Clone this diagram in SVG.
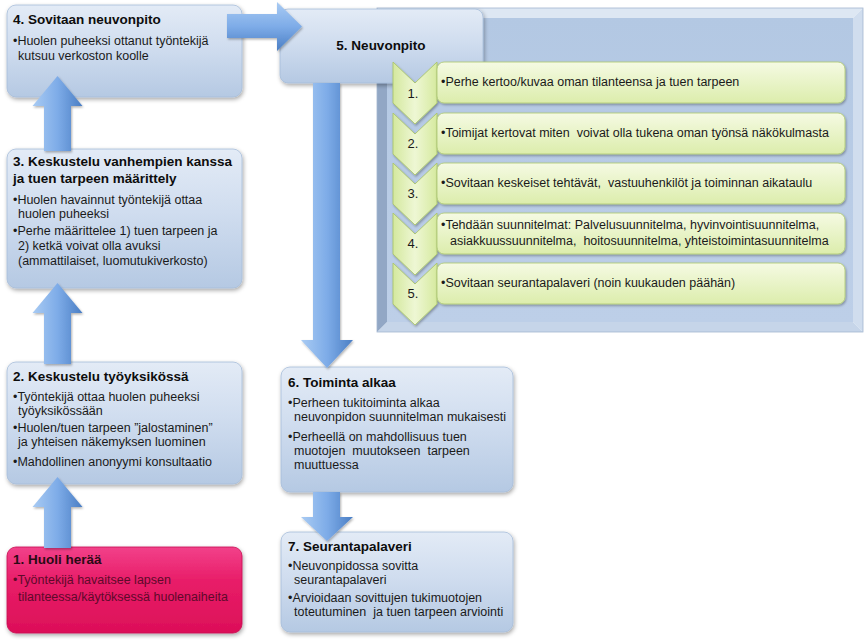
<svg xmlns="http://www.w3.org/2000/svg" width="865" height="641" viewBox="0 0 865 641">
<style>
.t{font-family:"Liberation Sans",Arial,sans-serif;font-size:13.5px;font-weight:bold;fill:#0d0d0d}
.b{font-family:"Liberation Sans",Arial,sans-serif;font-size:12.5px;fill:#1a1a1a}
.n{font-family:"Liberation Sans",Arial,sans-serif;font-size:13px;fill:#1a1a1a;text-anchor:middle}
.box{fill:url(#gBlue);stroke:#a6bcd9;stroke-width:0.8;filter:url(#sh)}
.red{fill:url(#gRed);stroke:#c70f52;stroke-width:0.8;filter:url(#sh)}
.grn{fill:url(#gGreen);stroke:#b2cc78;stroke-width:0.9;filter:url(#sh2)}
.chv{fill:url(#gChev);stroke:#aac56e;stroke-width:0.9;filter:url(#sh2)}
.av{fill:url(#gArrV);filter:url(#sh2)}
.ah{fill:url(#gArrH);filter:url(#sh2)}
</style>
<defs>
<linearGradient id="gBlue" x1="0" y1="0" x2="0" y2="1">
<stop offset="0" stop-color="#e3ebf6"/><stop offset="0.45" stop-color="#d0ddef"/><stop offset="1" stop-color="#b5c9e3"/>
</linearGradient>
<linearGradient id="gRed" x1="0" y1="0" x2="0" y2="1">
<stop offset="0" stop-color="#f2418a"/><stop offset="0.4" stop-color="#e81d68"/><stop offset="1" stop-color="#dc0f58"/>
</linearGradient>
<linearGradient id="gGreen" x1="0" y1="0" x2="0" y2="1">
<stop offset="0" stop-color="#f5fae3"/><stop offset="1" stop-color="#dcedac"/>
</linearGradient>
<linearGradient id="gChev" x1="0" y1="0" x2="1" y2="0">
<stop offset="0" stop-color="#d4e89e"/><stop offset="0.5" stop-color="#eef7d4"/><stop offset="1" stop-color="#d6ea9f"/>
</linearGradient>
<linearGradient id="gFace" x1="0" y1="0" x2="0" y2="1">
<stop offset="0" stop-color="#b3c8e3"/><stop offset="1" stop-color="#bdcfe8"/>
</linearGradient>
<linearGradient id="gArrV" x1="0" y1="0" x2="1" y2="0">
<stop offset="0" stop-color="#a9cbf3"/><stop offset="0.5" stop-color="#7eace8"/><stop offset="1" stop-color="#4a7ec4"/>
</linearGradient>
<linearGradient id="gArrH" x1="0" y1="0" x2="0" y2="1">
<stop offset="0" stop-color="#a9cbf3"/><stop offset="0.5" stop-color="#7eace8"/><stop offset="1" stop-color="#4a7ec4"/>
</linearGradient>
<filter id="sh" x="-10%" y="-10%" width="125%" height="130%">
<feDropShadow dx="1" dy="2" stdDeviation="2" flood-color="#000" flood-opacity="0.35"/>
</filter>
<filter id="sh2" x="-10%" y="-10%" width="125%" height="130%">
<feDropShadow dx="1" dy="1.5" stdDeviation="1.2" flood-color="#000" flood-opacity="0.3"/>
</filter>
</defs>

<g id="n5-panel">
<polygon points="377,8 863,8 853,18 387,18" fill="#dde7f3"/>
<polygon points="863,8 863,332 853,322 853,18" fill="#d0ddee"/>
<polygon points="377,332 863,332 853,322 387,322" fill="#c6d5e9"/>
<polygon points="377,8 387,18 387,322 377,332" fill="#92a7c5"/>
<rect x="387" y="18" width="466" height="304" fill="url(#gFace)"/>
<rect x="377" y="8" width="486" height="324" fill="none" stroke="#a3b6d0" stroke-width="0.8"/>
</g>

<g id="n5">
<rect class="box" x="280" y="9" width="203" height="74" rx="8"/>
<text class="t" x="381" y="50" text-anchor="middle">5. Neuvonpito</text>
</g>

<g id="n5-steps">
<g id="s1">
<polygon class="chv" points="393,62 415,83 437,62 437,103 415,124 393,103"/>
<rect class="grn" x="437" y="62" width="408" height="41" rx="7"/>
<text class="n" x="413" y="98">1.</text>
<text class="b" x="441" y="86">•Perhe kertoo/kuvaa oman tilanteensa ja tuen tarpeen</text>
</g>
<g id="s2">
<polygon class="chv" points="393,113 415,134 437,113 437,154 415,175 393,154"/>
<rect class="grn" x="437" y="113" width="408" height="41" rx="7"/>
<text class="n" x="413" y="148">2.</text>
<text class="b" x="441" y="137" xml:space="preserve">•Toimijat kertovat miten  voivat olla tukena oman työnsä näkökulmasta</text>
</g>
<g id="s3">
<polygon class="chv" points="393,163 415,184 437,163 437,204 415,225 393,204"/>
<rect class="grn" x="437" y="163" width="408" height="41" rx="7"/>
<text class="n" x="413" y="198">3.</text>
<text class="b" x="441" y="187" xml:space="preserve">•Sovitaan keskeiset tehtävät,  vastuuhenkilöt ja toiminnan aikataulu</text>
</g>
<g id="s4">
<polygon class="chv" points="393,213 415,234 437,213 437,254 415,275 393,254"/>
<rect class="grn" x="437" y="213" width="408" height="41" rx="7"/>
<text class="n" x="413" y="248">4.</text>
<text class="b" x="441" y="229">•Tehdään suunnitelmat: Palvelusuunnitelma, hyvinvointisuunnitelma,</text>
<text class="b" x="450" y="245" xml:space="preserve">asiakkuussuunnitelma,  hoitosuunnitelma, yhteistoimintasuunnitelma</text>
</g>
<g id="s5">
<polygon class="chv" points="393,263 415,284 437,263 437,304 415,325 393,304"/>
<rect class="grn" x="437" y="263" width="408" height="41" rx="7"/>
<text class="n" x="413" y="298">5.</text>
<text class="b" x="441" y="287">•Sovitaan seurantapalaveri (noin kuukauden päähän)</text>
</g>
</g>

<g id="n4">
<rect class="box" x="7" y="5" width="235" height="92" rx="9"/>
<text class="t" x="13" y="24">4. Sovitaan neuvonpito</text>
<text class="b" x="13" y="45">•Huolen puheeksi ottanut työntekijä</text>
<text class="b" x="18" y="60">kutsuu verkoston koolle</text>
</g>

<g id="n3">
<rect class="box" x="7" y="149" width="235" height="139" rx="9"/>
<text class="t" x="13" y="166">3. Keskustelu vanhempien kanssa</text>
<text class="t" x="13" y="183">ja tuen tarpeen määrittely</text>
<text class="b" x="13" y="204">•Huolen havainnut työntekijä ottaa</text>
<text class="b" x="18" y="218">huolen puheeksi</text>
<text class="b" x="13" y="235">•Perhe määrittelee 1) tuen tarpeen ja</text>
<text class="b" x="18" y="250">2) ketkä voivat olla avuksi</text>
<text class="b" x="18" y="265">(ammattilaiset, luomutukiverkosto)</text>
</g>

<g id="n2">
<rect class="box" x="7" y="362" width="235" height="122" rx="9"/>
<text class="t" x="13" y="381">2. Keskustelu työyksikössä</text>
<text class="b" x="13" y="401">•Työntekijä ottaa huolen puheeksi</text>
<text class="b" x="18" y="415">työyksikössään</text>
<text class="b" x="13" y="432">•Huolen/tuen tarpeen ”jalostaminen”</text>
<text class="b" x="18" y="446">ja yhteisen näkemyksen luominen</text>
<text class="b" x="13" y="466">•Mahdollinen anonyymi konsultaatio</text>
</g>

<g id="n1">
<rect class="red" x="7" y="547" width="235" height="86" rx="9"/>
<text class="t" x="13" y="564" style="fill:#2a0a14">1. Huoli herää</text>
<text class="b" x="13" y="584" style="fill:#5e0a2a">•Työntekijä havaitsee lapsen</text>
<text class="b" x="18" y="601" style="fill:#5e0a2a">tilanteessa/käytöksessä huolenaiheita</text>
</g>

<g id="n6">
<rect class="box" x="281" y="367" width="232" height="125" rx="9"/>
<text class="t" x="288" y="387">6. Toiminta alkaa</text>
<text class="b" x="288" y="407">•Perheen tukitoiminta alkaa</text>
<text class="b" x="294" y="421">neuvonpidon suunnitelman mukaisesti</text>
<text class="b" x="288" y="441">•Perheellä on mahdollisuus tuen</text>
<text class="b" x="294" y="455" xml:space="preserve">muotojen  muutokseen  tarpeen</text>
<text class="b" x="294" y="469">muuttuessa</text>
</g>

<g id="n7">
<rect class="box" x="281" y="532" width="232" height="100" rx="9"/>
<text class="t" x="288" y="551">7. Seurantapalaveri</text>
<text class="b" x="288" y="570">•Neuvonpidossa sovitta</text>
<text class="b" x="294" y="584">seurantapalaveri</text>
<text class="b" x="288" y="602">•Arvioidaan sovittujen tukimuotojen</text>
<text class="b" x="294" y="616" xml:space="preserve">toteutuminen  ja tuen tarpeen arviointi</text>
</g>

<g id="connectors">
<polygon class="av" points="44,548 71,548 71,507 82.5,507 57.5,477 32.5,507 44,507"/>
<polygon class="av" points="44,364 71,364 71,313 82.5,313 57.5,283 32.5,313 44,313"/>
<polygon class="av" points="44,151 71,151 71,106 82.5,106 57.5,76 32.5,106 44,106"/>
<polygon class="ah" points="227,14 277,14 277,2 302,26.5 277,51 277,38 227,38"/>
<polygon class="av" points="313,83 340,83 340,340 353,340 327,368 301,340 313,340"/>
<polygon class="av" points="313,492 340,492 340,517 353,517 327,541 301,517 313,517"/>
</g>
</svg>
